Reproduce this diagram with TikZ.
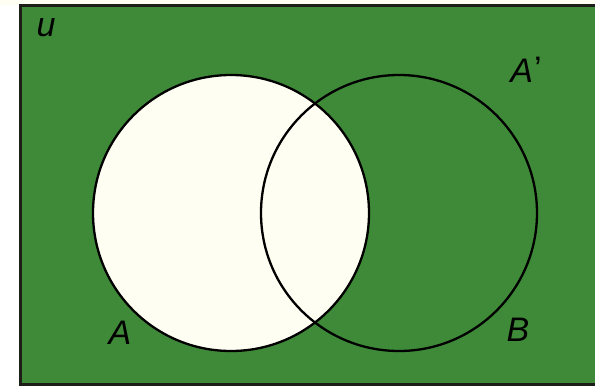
\documentclass[tikz,border=0pt]{standalone}
\usepackage{fontspec}
\setmainfont{Liberation Sans}
\definecolor{vgreen}{RGB}{63,138,56}
\definecolor{vcream}{RGB}{255,254,242}
\definecolor{vedge}{RGB}{30,30,25}
\begin{document}
\begin{tikzpicture}[x=1pt,y=-1pt,
  lbl/.style={font=\fontsize{34}{34}\selectfont\itshape, text=black, inner sep=0pt},
  ring/.style={draw=black, line width=2.3pt}]
\useasboundingbox (0,0) rectangle (595,389);
\fill[white] (0,0) rectangle (595,389);
\fill[vcream] (0,0) rectangle (595,5);
\fill[vgreen] (20,5) rectangle (600,384);
\fill[vcream] (231,213) circle (138);
\draw[ring] (231,213) circle (138);
\draw[ring] (399,213) circle (138);
\draw[vedge, line width=3pt] (600,5) -- (20,5) -- (20,384) -- (600,384);
\node[lbl] (u) at (46,28) {u};
\node[lbl] (Ap) at (526,70) {A\kern1pt\raisebox{2pt}{\upshape’}};
\node[lbl] (A) at (120,333) {A};
\node[lbl] (B) at (518,330) {B};
\end{tikzpicture}
\end{document}
